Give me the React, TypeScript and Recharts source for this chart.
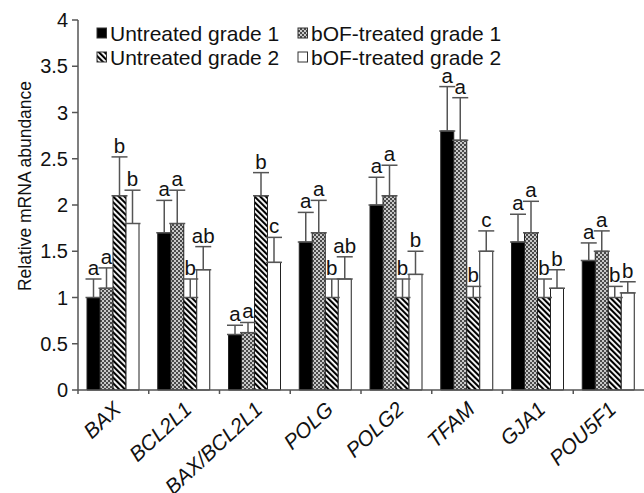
import React from 'react';
import { BarChart, Bar, XAxis, YAxis, ErrorBar, Legend, LabelList } from 'recharts';

const categories = ['BAX', 'BCL2L1', 'BAX/BCL2L1', 'POLG', 'POLG2', 'TFAM', 'GJA1', 'POU5F1'];
const seriesNames = ['Untreated grade 1', 'bOF-treated grade 1', 'Untreated grade 2', 'bOF-treated grade 2'];

const untreated1 = [1.0, 1.7, 0.6, 1.6, 2.0, 2.8, 1.6, 1.4];
const untreated1Err = [0.2, 0.35, 0.1, 0.32, 0.3, 0.48, 0.3, 0.19];
const untreated1Letters = ['a', 'a', 'a', 'a', 'a', 'a', 'a', 'a'];

const treated1 = [1.1, 1.8, 0.62, 1.7, 2.1, 2.7, 1.7, 1.5];
const treated1Err = [0.22, 0.36, 0.11, 0.35, 0.33, 0.46, 0.34, 0.22];
const treated1Letters = ['a', 'a', 'a', 'a', 'a', 'a', 'a', 'a'];

const untreated2 = [2.1, 1.0, 2.1, 1.0, 1.0, 1.0, 1.0, 1.0];
const untreated2Err = [0.42, 0.2, 0.25, 0.2, 0.2, 0.12, 0.2, 0.12];
const untreated2Letters = ['b', 'b', 'b', 'b', 'b', 'b', 'b', 'b'];

const treated2 = [1.8, 1.3, 1.38, 1.2, 1.25, 1.5, 1.1, 1.05];
const treated2Err = [0.36, 0.25, 0.27, 0.24, 0.25, 0.22, 0.2, 0.12];
const treated2Letters = ['b', 'ab', 'c', 'ab', 'b', 'c', 'b', 'b'];

const yTicks = [0, 0.5, 1, 1.5, 2, 2.5, 3, 3.5, 4];

const data = categories.map((name, i) => ({
  name,
  u1: untreated1[i],
  u1e: [0, untreated1Err[i]],
  t1: treated1[i],
  t1e: [0, treated1Err[i]],
  u2: untreated2[i],
  u2e: [0, untreated2Err[i]],
  t2: treated2[i],
  t2e: [0, treated2Err[i]],
}));

const FONT = '"Liberation Sans", Arial, Helvetica, sans-serif';

const Patterns = ({ prefix }: { prefix: string }) => (
  <defs>
    <pattern id={`${prefix}-check`} patternUnits="userSpaceOnUse" width={4} height={4}>
      <rect x={0} y={0} width={4} height={4} fill="#c8c8c8" />
      <rect x={0} y={0} width={2} height={2} fill="#4a4a4a" />
      <rect x={2} y={2} width={2} height={2} fill="#4a4a4a" />
    </pattern>
    <pattern id={`${prefix}-hatch`} patternUnits="userSpaceOnUse" width={4} height={4} patternTransform="rotate(-45)">
      <rect x={0} y={0} width={4} height={4} fill="#ffffff" />
      <rect x={0} y={0} width={2.1} height={4} fill="#000000" />
    </pattern>
  </defs>
);

const fills = (prefix: string) => ['#000000', `url(#${prefix}-check)`, `url(#${prefix}-hatch)`, '#ffffff'];

const makeLetterLabel = (values: number[], errs: number[], letters: string[]) => (props: any) => {
  const vb = props.viewBox || {};
  const idx = props.index;
  const x = vb.x ?? props.x;
  const y = vb.y ?? props.y;
  const w = vb.width ?? props.width;
  const h = vb.height ?? props.height;
  if (idx == null || x == null) return null;
  const v = values[idx];
  const pxPerUnit = Math.abs(h) / v;
  const top = y - errs[idx] * pxPerUnit;
  return (
    <text x={x + w / 2} y={top - 4} textAnchor="middle" fontSize={20.5} fill="#111" fontFamily={FONT}>
      {letters[idx]}
    </text>
  );
};

const XTick = (props: any) => {
  const { x, y, payload } = props;
  const off = payload && payload.offset ? payload.offset : 0;
  const ax = x + 9;
  const ay = y + 17;
  return (
    <g>
      <line x1={x - off} x2={x - off} y1={y - 4} y2={y} stroke="#555" strokeWidth={1.5} />
      <text
        x={ax}
        y={ay}
        textAnchor="end"
        fontSize={21}
        fontStyle="italic"
        fill="#111"
        fontFamily={FONT}
        transform={`rotate(-43, ${ax}, ${ay})`}
      >
        {payload.value}
      </text>
    </g>
  );
};

const renderLegend = () => {
  const f = fills('lg');
  return (
    <svg width={644} height={75} style={{ display: 'block' }}>
      <Patterns prefix="lg" />
      {seriesNames.map((name, i) => {
        const col = i % 2;
        const row = Math.floor(i / 2);
        const sx = col ? 298 : 97;
        const cy = row ? 57 : 33;
        return (
          <g key={name}>
            <rect x={sx} y={cy - 5} width={9.5} height={10} fill={f[i]} stroke="#333" strokeWidth={1} />
            <text x={sx + 13} y={cy + 7.5} fontSize={21} fill="#111" fontFamily={FONT}>
              {name}
            </text>
          </g>
        );
      })}
    </svg>
  );
};

const YLabel = () => (
  <text
    x={25}
    y={186}
    textAnchor="middle"
    dominantBaseline="central"
    fontSize={17.5}
    fill="#111"
    fontFamily={FONT}
    transform="rotate(-90, 25, 186)"
  >
    Relative mRNA abundance
  </text>
);

export default function App() {
  const f = fills('ch');
  const series = [
    { key: 'u1', err: 'u1e', vals: untreated1, errs: untreated1Err, letters: untreated1Letters },
    { key: 't1', err: 't1e', vals: treated1, errs: treated1Err, letters: treated1Letters },
    { key: 'u2', err: 'u2e', vals: untreated2, errs: untreated2Err, letters: untreated2Letters },
    { key: 't2', err: 't2e', vals: treated2, errs: treated2Err, letters: treated2Letters },
  ];
  return (
    <div style={{ position: 'absolute', left: 0, top: 0, width: 644, height: 493, overflow: 'hidden', background: '#fff', fontFamily: FONT }}>
      <BarChart
        width={644}
        height={493}
        data={data}
        margin={{ top: 20, right: 0, left: 0, bottom: 0 }}
        barGap={0}
        barSize={13}
      >
        <Patterns prefix="ch" />
        <XAxis
          dataKey="name"
          height={103}
          tickLine={false}
          tickSize={4}
          tickMargin={0}
          axisLine={{ stroke: '#555', strokeWidth: 1.5 }}
          tick={<XTick />}
          interval={0}
        />
        <YAxis
          width={78}
          domain={[0, 4]}
          ticks={yTicks}
          tickSize={6}
          tickMargin={4}
          tick={{ fontSize: 20, fill: '#111', fontFamily: FONT }}
          tickLine={{ stroke: '#555', strokeWidth: 1.5 }}
          axisLine={{ stroke: '#555', strokeWidth: 1.5 }}
          label={<YLabel />}
        />
        <Legend layout="vertical" verticalAlign="middle" align="center" content={renderLegend} wrapperStyle={{ top: 0, left: 0, width: 644, height: 75 }} />
        {series.map((s, i) => (
          <Bar key={s.key} dataKey={s.key} name={seriesNames[i]} fill={f[i]} stroke="#222" strokeWidth={1} isAnimationActive={false}>
            <ErrorBar dataKey={s.err} width={8} stroke="#555" strokeWidth={1.5} direction="y" isAnimationActive={false} />
            <LabelList dataKey={s.key} content={makeLetterLabel(s.vals, s.errs, s.letters)} />
          </Bar>
        ))}
      </BarChart>
    </div>
  );
}
